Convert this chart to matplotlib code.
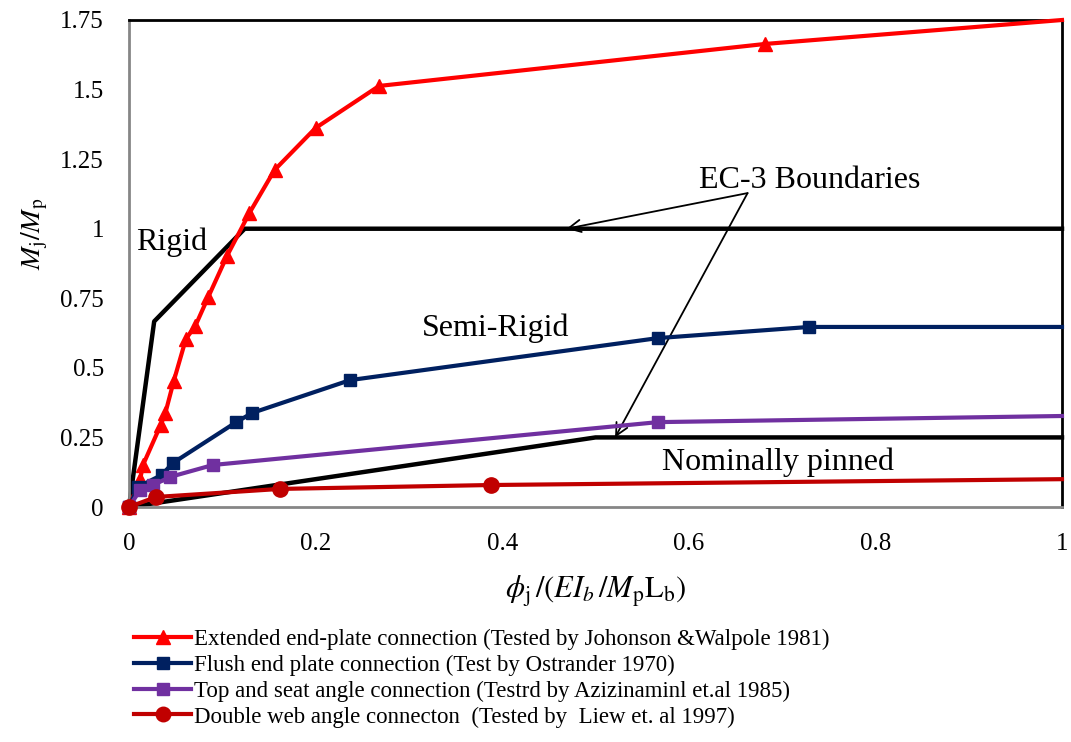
import matplotlib
matplotlib.use("Agg")
import matplotlib.pyplot as plt

plt.rcParams['font.family'] = ['Liberation Serif', 'DejaVu Serif']
plt.rcParams['mathtext.fontset'] = 'stix'

# Extended end-plate connection
ext_x = [0.0, 0.012, 0.015, 0.034, 0.039, 0.048, 0.061, 0.071, 0.085, 0.105, 0.129, 0.156, 0.200, 0.268, 0.682, 1.0]
ext_y = [0.0, 0.10, 0.151, 0.295, 0.338, 0.453, 0.604, 0.650, 0.755, 0.902, 1.056, 1.211, 1.362, 1.513, 1.664, 1.75]

# Flush end plate connection
flush_x = [0.0, 0.0096, 0.035, 0.047, 0.115, 0.132, 0.237, 0.567, 0.729, 1.0]
flush_y = [0.0, 0.072, 0.115, 0.158, 0.305, 0.338, 0.456, 0.607, 0.647, 0.647]

# Top and seat angle connection
top_x = [0.0, 0.012, 0.026, 0.044, 0.090, 0.567, 1.0]
top_y = [0.0, 0.061, 0.079, 0.108, 0.151, 0.305, 0.327]

# Double web angle connection
dbl_x = [0.0, 0.029, 0.162, 0.388, 1.0]
dbl_y = [0.0, 0.036, 0.065, 0.079, 0.10]

# EC-3 boundaries
rigid_x = [0.0, 0.027, 0.124, 1.0]
rigid_y = [0.0, 0.667, 1.0, 1.0]
pinned_x = [0.0, 0.50, 1.0]
pinned_y = [0.0, 0.25, 0.25]

x_ticks = [0, 0.2, 0.4, 0.6, 0.8, 1]
x_tick_labels = ["0", "0.2", "0.4", "0.6", "0.8", "1"]
y_ticks = [0, 0.25, 0.5, 0.75, 1, 1.25, 1.5, 1.75]
y_tick_labels = ["0", "0.25", "0.5", "0.75", "1", "1.25", "1.5", "1.75"]

labels = [
    "Extended end-plate connection (Tested by Johonson &Walpole 1981)",
    "Flush end plate connection (Test by Ostrander 1970)",
    "Top and seat angle connection (Testrd by Azizinaminl et.al 1985)",
    "Double web angle connecton  (Tested by  Liew et. al 1997)",
]

fig = plt.figure(figsize=(10.71, 7.42), dpi=100)
ax = fig.add_axes([129/1071, 1-507/742, (1062-129)/1071, (507-20)/742])

ax.plot(rigid_x, rigid_y, color='black', lw=3.2, zorder=2, clip_on=False)
ax.plot(pinned_x, pinned_y, color='black', lw=3.2, zorder=2, clip_on=False)

mk_all_but_last = slice(0, -1)
l1, = ax.plot(ext_x, ext_y, color='#ff0000', lw=3, marker='^', ms=10, zorder=4,
              clip_on=False, markevery=mk_all_but_last)
l2, = ax.plot(flush_x, flush_y, color='#002060', lw=3, marker='s', ms=9, zorder=4,
              clip_on=False, markevery=mk_all_but_last)
l3, = ax.plot(top_x, top_y, color='#7030a0', lw=3, marker='s', ms=9, zorder=4,
              clip_on=False, markevery=mk_all_but_last)
l4, = ax.plot(dbl_x, dbl_y, color='#c00000', lw=3, marker='o', ms=11, zorder=5,
              clip_on=False, markevery=mk_all_but_last)

ax.set_xlim(0, 1)
ax.set_ylim(0, 1.75)
ax.set_xticks(x_ticks)
ax.set_xticklabels(x_tick_labels)
ax.set_yticks(y_ticks)
ax.set_yticklabels(y_tick_labels)
ax.tick_params(length=0, labelsize=18)
ax.tick_params(axis='y', pad=18)
ax.tick_params(axis='x', pad=19)

for s in ['left', 'bottom']:
    ax.spines[s].set_color('#868686')
    ax.spines[s].set_linewidth(2)
for s in ['top', 'right']:
    ax.spines[s].set_color('black')
    ax.spines[s].set_linewidth(2)

ax.set_xlabel(r'$\phi_{\rm j}\,/(EI_b\,/M_{\rm p}{\rm L_b})$', fontsize=22, labelpad=13)
ax.set_ylabel(r'$M_{\rm j}/M_{\rm p}$', fontsize=20)
ax.yaxis.set_label_coords(-0.085, (507-234)/487)

ax.text(0.046, 0.95, "Rigid", fontsize=23, ha='center', va='center')
ax.text(0.393, 0.643, "Semi-Rigid", fontsize=23, ha='center', va='center')
ax.text(0.696, 0.162, "Nominally pinned", fontsize=23, ha='center', va='center')
ax.text(0.73, 1.175, "EC-3 Boundaries", fontsize=23, ha='center', va='center')

ax.annotate("", xy=(0.469, 1.0), xytext=(0.663, 1.128),
            arrowprops=dict(arrowstyle='->', color='black', lw=1.3, mutation_scale=22, shrinkA=0, shrinkB=0))
ax.annotate("", xy=(0.521, 0.25), xytext=(0.663, 1.128),
            arrowprops=dict(arrowstyle='->', color='black', lw=1.3, mutation_scale=22, shrinkA=0, shrinkB=0))

fig.legend([l1, l2, l3, l4], labels, loc='upper left', bbox_to_anchor=(134/1071, 1-629/742),
           frameon=False, fontsize=16.5, handlelength=2.5, handletextpad=0.12,
           labelspacing=0.2, borderaxespad=0, borderpad=0, markerscale=0.95)

fig.savefig("out.png", dpi=100)
